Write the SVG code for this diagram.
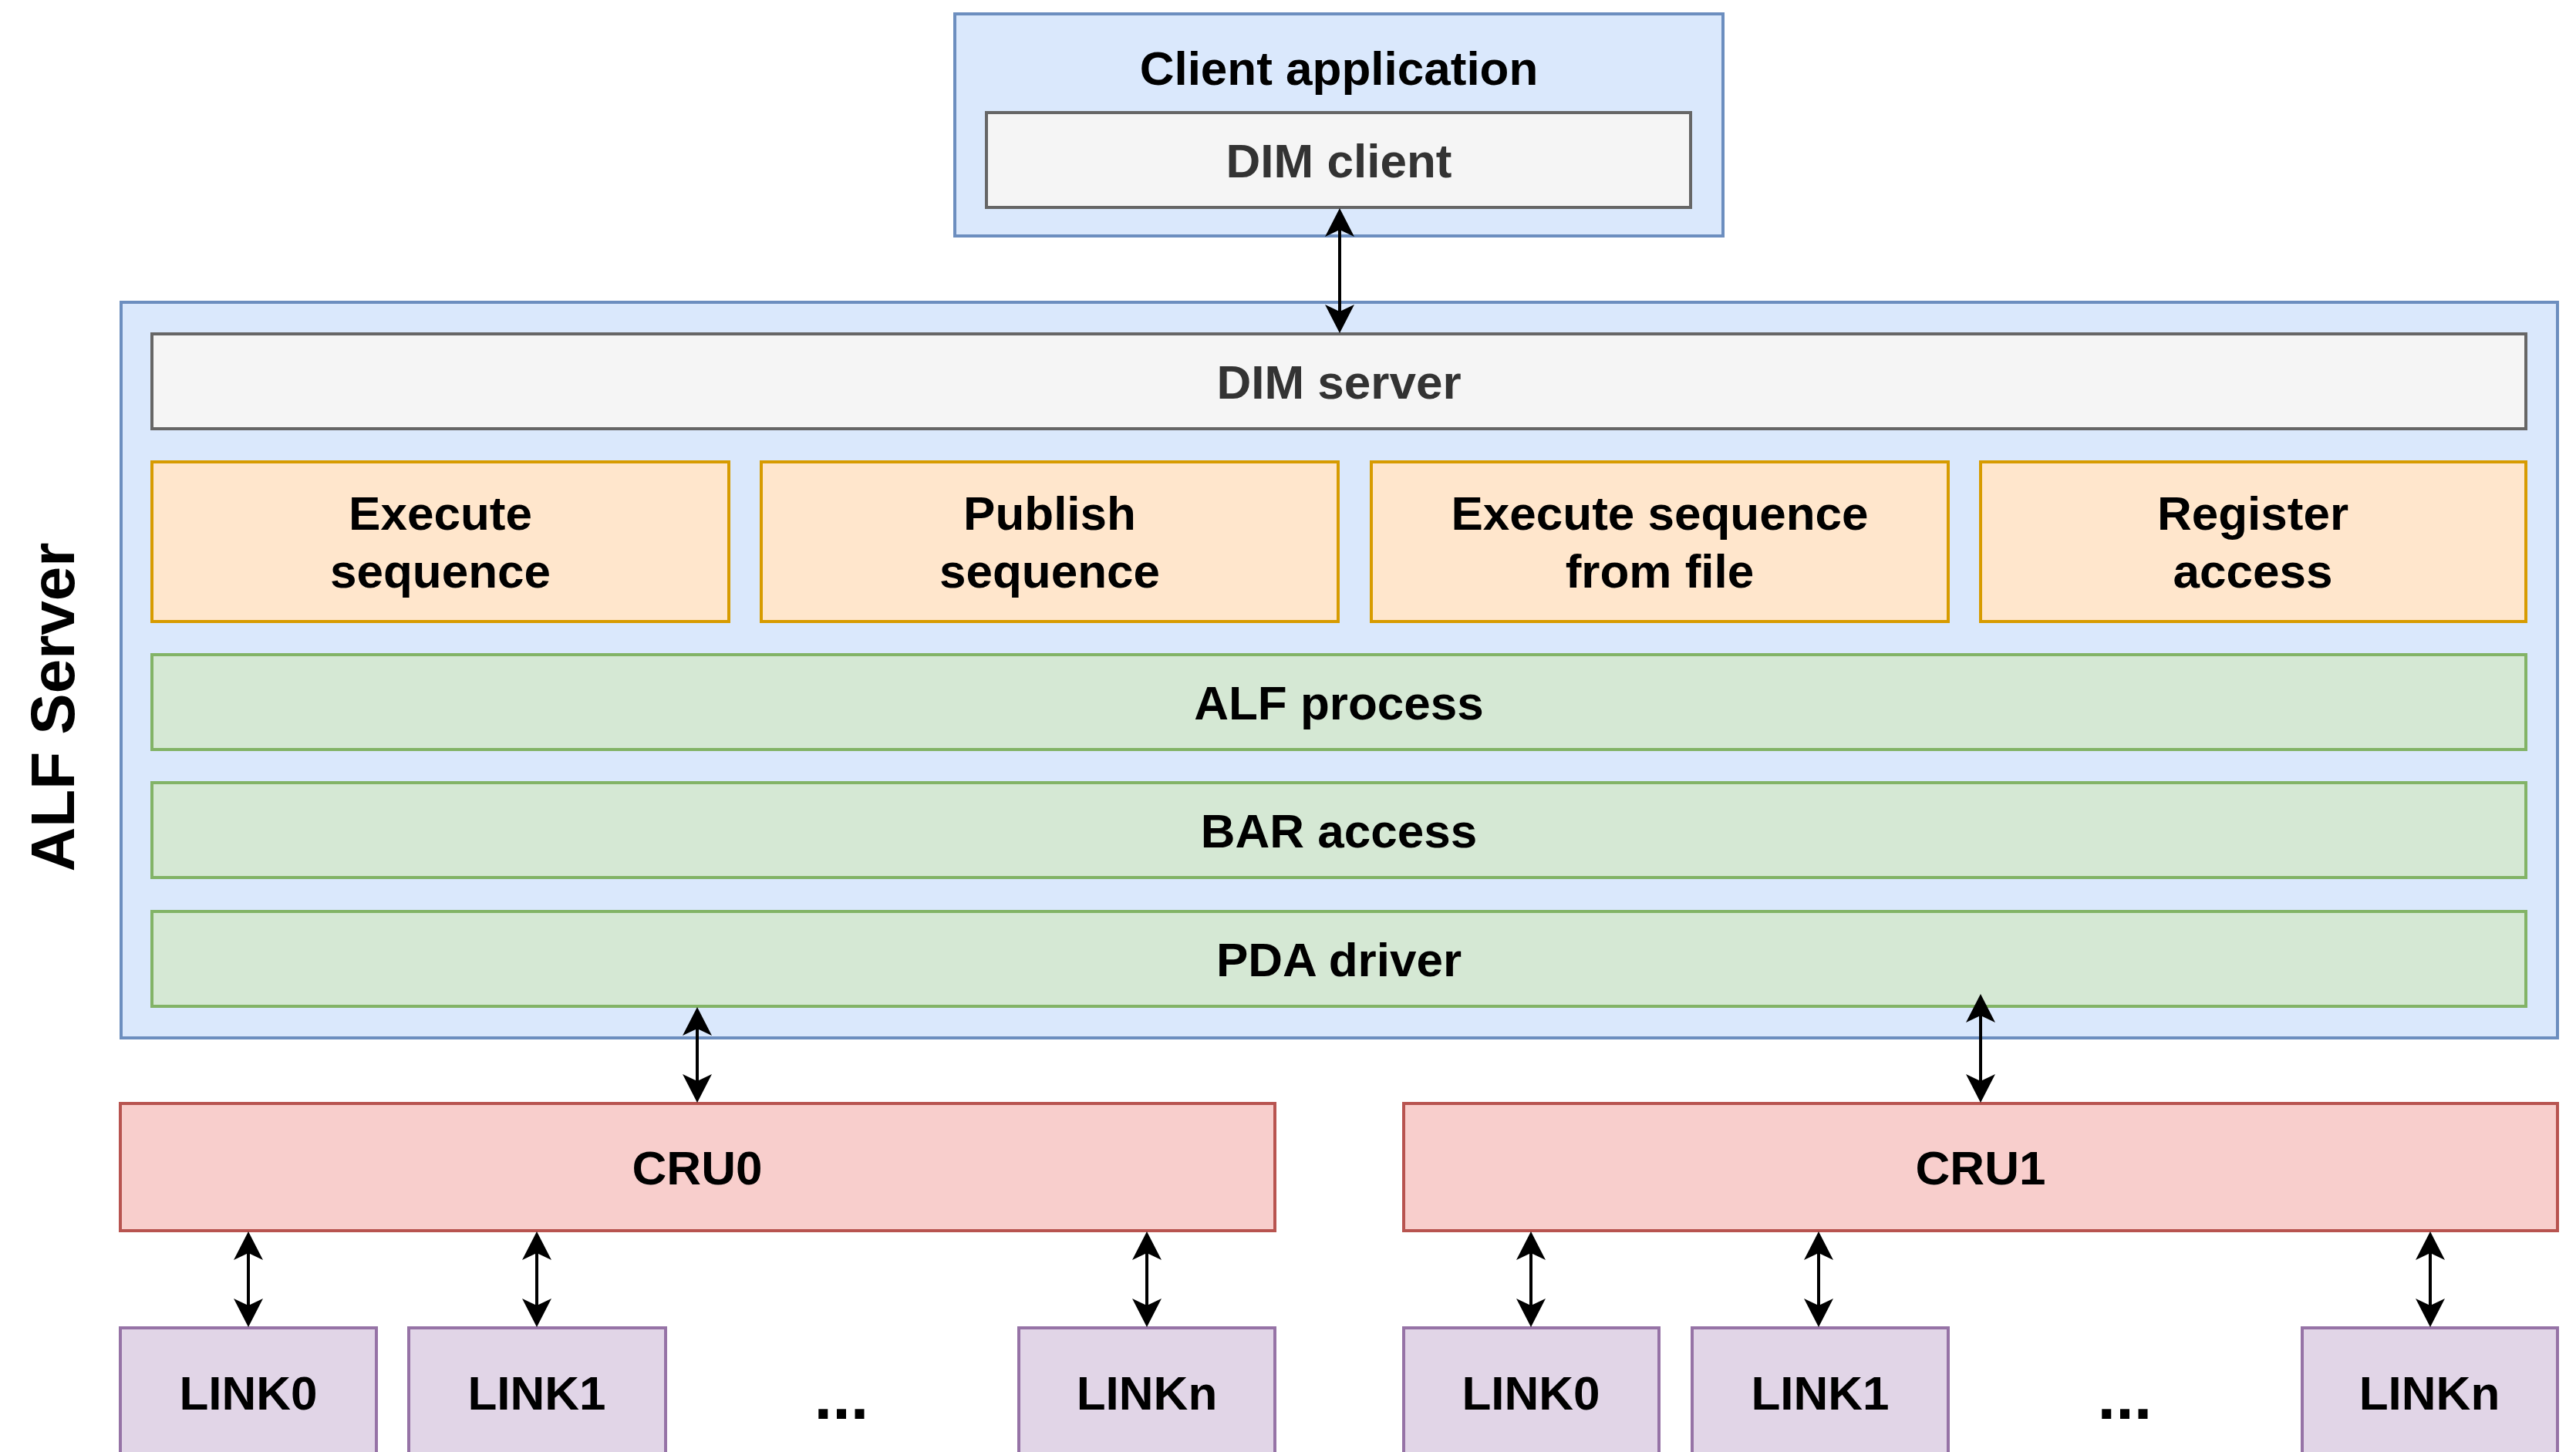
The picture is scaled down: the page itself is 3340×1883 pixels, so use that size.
<svg xmlns="http://www.w3.org/2000/svg" width="3340" height="1883" viewBox="0 0 3340 1883">
<style>
text{font-family:"Liberation Sans",Arial,Helvetica,sans-serif;font-weight:bold;font-size:62px;text-anchor:middle;fill:#000}
rect{stroke-width:4}
.blue{fill:#dae8fc;stroke:#6c8ebf}
.gray{fill:#f5f5f5;stroke:#666666}
.gray-t{fill:#333333}
.orange{fill:#ffe6cc;stroke:#d79b00}
.green{fill:#d5e8d4;stroke:#82b366}
.red{fill:#f8cecc;stroke:#b85450}
.purple{fill:#e1d5e7;stroke:#9673a6}
.conn line{stroke:#000;stroke-width:4;marker-start:url(#arr);marker-end:url(#arr)}
</style>
<defs>
<marker id="arr" viewBox="0 0 37 38" markerWidth="37" markerHeight="38" refX="9" refY="19" orient="auto-start-reverse" markerUnits="userSpaceOnUse">
<path d="M0,0 L37,19 L0,38 L9,19 Z" fill="#000"/>
</marker>
</defs>
<rect width="3340" height="1883" fill="#ffffff" stroke="none"/>

<g id="client-application">
<rect class="blue" x="1238" y="18" width="996" height="288"/>
<text x="1736" y="110">Client application</text>
</g>
<g id="dim-client">
<rect class="gray" x="1279" y="146" width="913" height="123"/>
<text class="gray-t" x="1736" y="230">DIM client</text>
</g>

<g id="alf-server">
<rect class="blue" x="157" y="392" width="3159" height="954"/>
<text transform="translate(96,917) rotate(-90)" style="font-size:80px">ALF Server</text>
</g>
<g id="dim-server">
<rect class="gray" x="197" y="433" width="3078" height="123"/>
<text class="gray-t" x="1736" y="517">DIM server</text>
</g>
<g id="execute-sequence">
<rect class="orange" x="197" y="599" width="748" height="207"/>
<text x="571" y="687">Execute</text>
<text x="571" y="762">sequence</text>
</g>
<g id="publish-sequence">
<rect class="orange" x="987" y="599" width="748" height="207"/>
<text x="1361" y="687">Publish</text>
<text x="1361" y="762">sequence</text>
</g>
<g id="execute-sequence-from-file">
<rect class="orange" x="1778" y="599" width="748" height="207"/>
<text x="2152" y="687">Execute sequence</text>
<text x="2152" y="762">from file</text>
</g>
<g id="register-access">
<rect class="orange" x="2568" y="599" width="707" height="207"/>
<text x="2921" y="687">Register</text>
<text x="2921" y="762">access</text>
</g>
<g id="alf-process">
<rect class="green" x="197" y="849" width="3078" height="123"/>
<text x="1736" y="933">ALF process</text>
</g>
<g id="bar-access">
<rect class="green" x="197" y="1015" width="3078" height="123"/>
<text x="1736" y="1099">BAR access</text>
</g>
<g id="pda-driver">
<rect class="green" x="197" y="1182" width="3078" height="123"/>
<text x="1736" y="1266">PDA driver</text>
</g>

<g id="cru0">
<rect class="red" x="156" y="1431" width="1497" height="165"/>
<text x="904" y="1536">CRU0</text>
</g>
<g id="cru1">
<rect class="red" x="1820" y="1431" width="1496" height="165"/>
<text x="2568" y="1536">CRU1</text>
</g>

<g id="cru0-link0">
<rect class="purple" x="156" y="1722" width="332" height="168"/>
<text x="322" y="1828">LINK0</text>
</g>
<g id="cru0-link1">
<rect class="purple" x="530" y="1722" width="333" height="168"/>
<text x="696" y="1828">LINK1</text>
</g>
<g id="cru0-dots">
<text x="1091" y="1840" style="font-size:85px">...</text>
</g>
<g id="cru0-linkn">
<rect class="purple" x="1321" y="1722" width="332" height="168"/>
<text x="1487" y="1828">LINKn</text>
</g>
<g id="cru1-link0">
<rect class="purple" x="1820" y="1722" width="331" height="168"/>
<text x="1985" y="1828">LINK0</text>
</g>
<g id="cru1-link1">
<rect class="purple" x="2194" y="1722" width="332" height="168"/>
<text x="2360" y="1828">LINK1</text>
</g>
<g id="cru1-dots">
<text x="2755" y="1840" style="font-size:85px">...</text>
</g>
<g id="cru1-linkn">
<rect class="purple" x="2985" y="1722" width="331" height="168"/>
<text x="3150" y="1828">LINKn</text>
</g>

<g id="connectors" class="conn">
<line x1="1737" y1="298" x2="1737" y2="404"/>
<line x1="904" y1="1334" x2="904" y2="1402"/>
<line x1="2568" y1="1317" x2="2568" y2="1402"/>
<line x1="322" y1="1625" x2="322" y2="1693"/>
<line x1="696" y1="1625" x2="696" y2="1693"/>
<line x1="1487" y1="1625" x2="1487" y2="1693"/>
<line x1="1985" y1="1625" x2="1985" y2="1693"/>
<line x1="2358" y1="1625" x2="2358" y2="1693"/>
<line x1="3151" y1="1625" x2="3151" y2="1693"/>
</g>
</svg>
